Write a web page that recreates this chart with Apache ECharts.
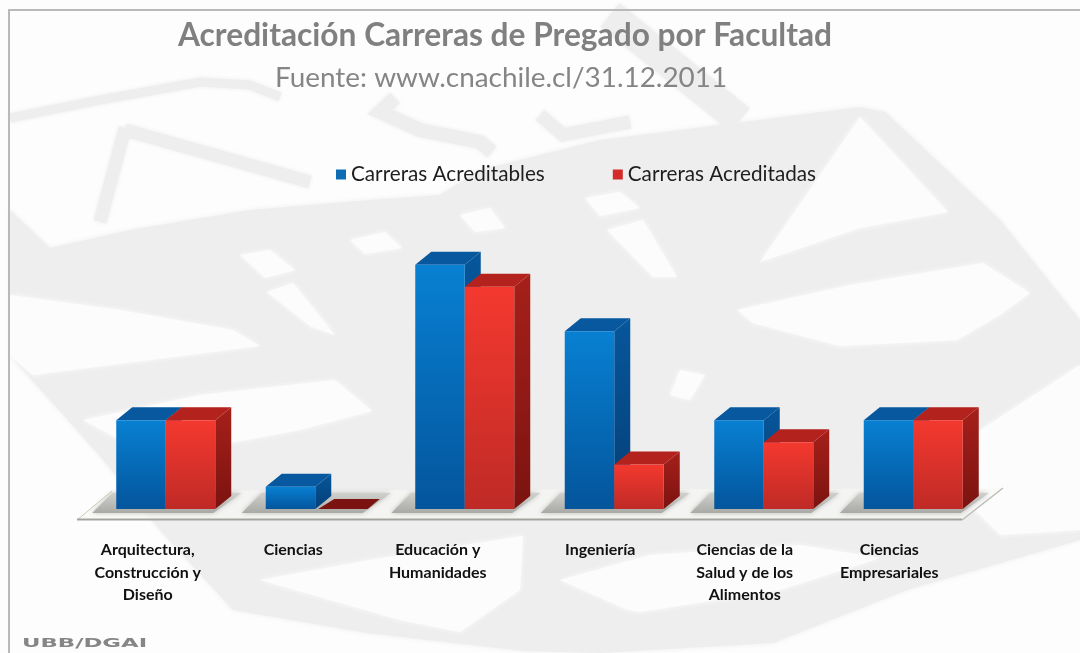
<!DOCTYPE html>
<html>
<head>
<meta charset="utf-8">
<title>Acreditación Carreras de Pregrado por Facultad</title>
<script src="https://cdn.jsdelivr.net/npm/echarts@6/dist/echarts.min.js"></script>
<style>
  html, body { margin: 0; padding: 0; background: #fff; }
  #chart { width: 1080px; height: 653px; }
</style>
</head>
<body>
<div id="chart"></div>
<script>
// datos
const categories = [
  'Arquitectura,\nConstrucción y\nDiseño',
  'Ciencias',
  'Educación y\nHumanidades',
  'Ingeniería',
  'Ciencias de la\nSalud y de los\nAlimentos',
  'Ciencias\nEmpresariales'
];
const acreditables = [4, 1, 11, 8, 4, 4];
const acreditadas = [4, 0, 10, 2, 3, 4];

const GREY = '#eeeeee';
const PAPER = '#fcfcfc';

// corrimiento a la izquierda de cada rotulo del eje
const labelShift = [18, 22, 27, 14, 19, 24];

// marca de agua de fondo, solo decoracion
const maskGrey = [
  [[10, 210], [50, 248], [130, 230], [250, 210], [370, 200], [440, 195], [480, 170], [600, 140], [720, 125], [860, 107], [885, 112], [1000, 220], [1080, 320], [1080, 540], [907, 590], [773, 643], [600, 653], [523, 651], [367, 633], [233, 610], [160, 530], [100, 456], [50, 400], [10, 356]]
];
const maskWhite = [
  [[10, 295], [120, 310], [233, 330], [260, 346], [150, 360], [33, 375], [10, 356]],
  [[83, 420], [200, 395], [335, 380], [372, 411], [300, 430], [230, 443], [150, 445], [120, 440]],
  [[267, 292], [293, 283], [335, 335], [310, 326]],
  [[860, 117], [948, 212], [860, 228], [760, 262]],
  [[737, 310], [850, 285], [983, 263], [1030, 293], [1000, 315], [957, 340], [840, 346], [753, 323]],
  [[965, 440], [1080, 365], [1080, 530], [1000, 535], [965, 500]],
  [[260, 580], [370, 560], [523, 536], [520, 590], [460, 632], [400, 620], [330, 600]],
  [[560, 580], [650, 555], [800, 545], [880, 558], [780, 590], [640, 612], [628, 610]],
  [[607, 230], [643, 220], [677, 277], [653, 277]],
  [[240, 255], [270, 250], [295, 270], [265, 278]],
  [[350, 240], [385, 232], [402, 248], [365, 254]],
  [[460, 215], [490, 208], [505, 228], [475, 232]],
  [[585, 198], [620, 192], [640, 208], [600, 216]],
  [[680, 370], [705, 375], [690, 400], [670, 395]]
];
const maskLines = [
  { pts: [[10, 118], [100, 100], [200, 82], [250, 85], [280, 97]], w: 9 },
  { pts: [[395, 98], [380, 112], [420, 130], [480, 142], [492, 152]], w: 14 },
  { pts: [[125, 128], [100, 222]], w: 13 },
  { pts: [[125, 130], [310, 182]], w: 13 },
  { pts: [[610, 15], [740, 120]], w: 30 },
  { pts: [[540, 115], [563, 135], [630, 122]], w: 13 }
];

function polyEl(points, fill) {
  return { type: 'polygon', silent: true, z: 0, shape: { points: points }, style: { fill: fill, shadowBlur: 5, shadowColor: fill } };
}

function edgeEl(points, color, width) {
  return { type: 'polyline', silent: true, z: 1, shape: { points: points }, style: { stroke: color, lineWidth: width, fill: 'none' } };
}

const background = [
  ...maskGrey.map(p => polyEl(p, GREY)),
  ...maskLines.map(l => ({ type: 'polyline', silent: true, z: 0, shape: { points: l.pts }, style: { stroke: GREY, lineWidth: l.w, fill: 'none', shadowBlur: 4, shadowColor: GREY } })),
  ...maskWhite.map(p => polyEl(p, PAPER)),
  // marco
  edgeEl([[9, 653], [9, 10], [1080, 10]], '#b9b9b9', 2),
  // piso del grafico
  { type: 'polygon', silent: true, z: 1, shape: { points: [[77, 520], [962, 520], [1003, 488], [112, 491]] }, style: { fill: 'rgba(248,248,246,0.6)' } },
  edgeEl([[112, 491], [77, 520]], '#cfc9b4', 1),
  edgeEl([[1003, 488], [962, 520]], '#bdbdb8', 1.5),
  edgeEl([[77, 519.5], [962, 519.5]], '#a3a39e', 2),
  { type: 'text', silent: true, z: 1, x: 22, y: 637, scaleX: 1.75, style: { text: 'UBB/DGAI', font: 'bold 13px "DejaVu Sans"', fill: '#868686' } }
];

const DX = 16, DY = 13;

function vGrad(top, bottom) {
  return new echarts.graphic.LinearGradient(0, 0, 0, 1, [
    { offset: 0, color: top },
    { offset: 1, color: bottom }
  ]);
}

// barra 3D: cara frontal, superior y lateral a partir de la escala del eje
function barRenderer(side, colors) {
  return function (params, api) {
    const base = api.coord([api.value(0), 0]);
    const tip = api.coord([api.value(0), api.value(1)]);
    const w = api.size([1, 0])[0] / 3.02;
    const x0 = side < 0 ? base[0] - w : base[0];
    const x1 = x0 + w;
    const yB = base[1], yT = tip[1];
    const kids = [];
    if (yB - yT > 0.5) {
      kids.push({ type: 'polygon', shape: { points: [[x1, yT], [x1 + DX, yT - DY], [x1 + DX, yB - DY], [x1, yB]] }, style: { fill: vGrad(colors.side[0], colors.side[1]) } });
      kids.push({ type: 'polygon', shape: { points: [[x0, yT], [x0 + DX, yT - DY], [x1 + DX, yT - DY], [x1, yT]] }, style: { fill: colors.top } });
      kids.push({ type: 'rect', shape: { x: x0, y: yT, width: w, height: yB - yT }, style: { fill: vGrad(colors.front[0], colors.front[1]) } });
    } else {
      kids.push({ type: 'polygon', shape: { points: [[x0 + 3, yB], [x0 + DX + 3, yB - 10], [x1 + DX - 1, yB - 10], [x1 + 3, yB]] }, style: { fill: colors.side[1] } });
    }
    return { type: 'group', children: kids };
  };
}

function shadowRenderer(params, api) {
  const base = api.coord([api.value(0), 0]);
  const w = api.size([1, 0])[0] / 3.02;
  const y = base[1];
  return {
    type: 'polygon',
    shape: { points: [[base[0] - w - 24, y + 4], [base[0] + w - 2, y + 4], [base[0] + w + 26, y - 16], [base[0] - w - 4, y - 16]] },
    style: { fill: vGrad('#cfcfcb', '#a9a9a5'), shadowBlur: 5, shadowColor: 'rgba(150,150,145,0.6)' }
  };
}

const blueStyle = { front: ['#0880d2', '#04559c'], top: '#07589f', side: ['#07569b', '#043f78'] };
const redStyle = { front: ['#f4392f', '#bf2a26'], top: '#b3221d', side: ['#a6201a', '#7b1310'] };

const labelRich = {};
labelShift.forEach((s, i) => {
  labelRich['c' + i] = {
    fontFamily: 'Lato', fontWeight: 'bold', fontSize: 16, lineHeight: 22.5, color: '#111',
    padding: [0, s * 2, 0, 0]
  };
});

const chart = echarts.init(document.getElementById('chart'));
chart.setOption({
  animation: false,
  backgroundColor: '#fdfdfd',
  graphic: { elements: background },
  title: [
    { text: 'Acreditación Carreras de Pregado por Facultad', left: 173, top: 15, textStyle: { fontFamily: 'Lato', fontWeight: 'bold', fontSize: 31.7, color: '#808080' } },
    { text: 'Fuente: www.cnachile.cl/31.12.2011', left: 270, top: 59, textStyle: { fontFamily: 'Lato', fontWeight: 'normal', fontSize: 27.9, color: '#858585' } }
  ],
  legend: {
    left: 331,
    top: 159,
    itemWidth: 10,
    itemHeight: 10,
    itemGap: 68,
    textStyle: { fontFamily: 'Lato', fontSize: 20.7, color: '#1e1e1e' },
    data: [
      { name: 'Carreras Acreditables', icon: 'rect', itemStyle: { color: '#0d6cb4' } },
      { name: 'Carreras Acreditadas', icon: 'rect', itemStyle: { color: '#d42a2a' } }
    ]
  },
  grid: { left: 91, width: 897, top: 198, height: 311 },
  xAxis: {
    type: 'category',
    data: categories,
    axisLine: { show: false },
    axisTick: { show: false },
    axisLabel: {
      interval: 0,
      margin: 30,
      verticalAlign: 'top',
      formatter: (value, index) => value.split('\n').map(line => '{c' + index + '|' + line + '}').join('\n'),
      rich: labelRich
    }
  },
  yAxis: { type: 'value', min: 0, max: 14, show: false },
  series: [
    { type: 'custom', name: 'sombra', z: 2, silent: true, clip: false, renderItem: shadowRenderer, data: categories.map((c, i) => [i, 0]), encode: { x: 0, y: 1 } },
    { type: 'custom', name: 'Carreras Acreditables', z: 3, clip: false, renderItem: barRenderer(-1, blueStyle), itemStyle: { color: '#0d6cb4' }, data: acreditables.map((v, i) => [i, v]), encode: { x: 0, y: 1 } },
    { type: 'custom', name: 'Carreras Acreditadas', z: 4, clip: false, renderItem: barRenderer(1, redStyle), itemStyle: { color: '#d42a2a' }, data: acreditadas.map((v, i) => [i, v]), encode: { x: 0, y: 1 } }
  ]
});
</script>
</body>
</html>
